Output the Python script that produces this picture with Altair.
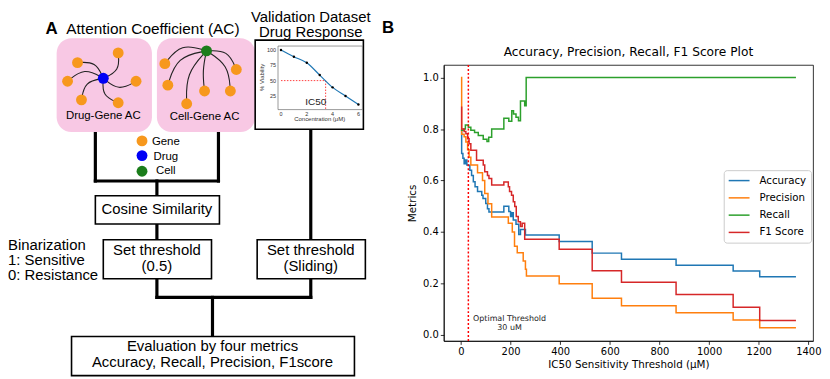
import altair as alt
import pandas as pd

# ---------------- Panel B data ----------------
acc_x = [0, 3, 8, 13, 18, 24, 29, 36, 43, 50, 57, 67, 84, 89, 100, 107, 113, 173, 193, 200,
         205, 211, 222, 233, 240, 260, 396, 529, 647, 867, 1097, 1204, 1350]
acc_y = [0.795, 0.705, 0.687, 0.665, 0.68, 0.66, 0.659, 0.64, 0.62, 0.595, 0.576, 0.557, 0.543,
         0.53, 0.511, 0.49, 0.478, 0.50, 0.48, 0.46, 0.475, 0.447, 0.43, 0.39, 0.41, 0.388,
         0.363, 0.318, 0.294, 0.271, 0.249, 0.226, 0.226]

prec_x = [0, 3, 13, 20, 27, 33, 40, 67, 87, 96, 109, 124, 191, 207, 216, 227, 251, 260, 264,
          396, 529, 647, 867, 1097, 1204, 1350]
prec_y = [1.0, 0.78, 0.77, 0.75, 0.72, 0.69, 0.66, 0.63, 0.60, 0.55, 0.51, 0.458, 0.434, 0.40,
          0.345, 0.319, 0.287, 0.255, 0.229, 0.199, 0.143, 0.114, 0.086, 0.058, 0.028, 0.028]

rec_x = [0, 12, 18, 30, 40, 55, 70, 90, 105, 112, 124, 173, 193, 205, 212, 222, 232, 240, 257,
         263, 1350]
rec_y = [0.795, 0.80, 0.816, 0.807, 0.795, 0.787, 0.775, 0.76, 0.752, 0.768, 0.80, 0.842, 0.83,
         0.871, 0.858, 0.846, 0.832, 0.909, 0.89, 1.0, 1.0]

f1_x = [0, 3, 13, 20, 27, 33, 40, 63, 90, 96, 107, 113, 124, 173, 191, 196, 204, 211, 217, 223,
        231, 240, 247, 257, 396, 529, 647, 867, 1097, 1204, 1350]
f1_y = [0.885, 0.80, 0.79, 0.782, 0.762, 0.743, 0.718, 0.679, 0.66, 0.634, 0.62, 0.608, 0.583,
        0.594, 0.576, 0.557, 0.543, 0.518, 0.499, 0.46, 0.44, 0.421, 0.434, 0.372, 0.333, 0.25,
        0.205, 0.157, 0.108, 0.056, 0.056]

series_names = ["Accuracy", "Precision", "Recall", "F1 Score"]
series_colors = ["#1f77b4", "#ff7f0e", "#2ca02c", "#d62728"]
x_ticks = [0, 200, 400, 600, 800, 1000, 1200, 1400]
y_ticks = [0.0, 0.2, 0.4, 0.6, 0.8, 1.0]
optimal_threshold = [30]
annot_text = ["Optimal Threshold", "30 uM"]
annot_x = [196, 196]
annot_y = [0.062, 0.028]

# ---------------- Panel A diagram data (reference pixel layout) ----------------
pink_x1 = [57, 158]
pink_x2 = [153, 257]
pink_y1 = [32, 32]
pink_y2 = [128, 128]

box_x1 = [257, 96, 104, 259, 72]
box_x2 = [366, 221, 213, 368, 357]
box_y1 = [34, 193, 238, 238, 337]
box_y2 = [125, 222, 278, 278, 377]

conn_x1 = [96, 220, 96, 158, 158, 313, 158, 313, 158, 214]
conn_y1 = [128, 128, 178, 178, 222, 125, 278, 278, 297, 297]
conn_x2 = [96, 220, 220, 158, 158, 313, 158, 313, 313, 214]
conn_y2 = [178, 178, 178, 193, 238, 238, 297, 297, 297, 337]

drug_center = (104, 73)
drug_genes_x = [78, 119, 68, 137, 82, 119]
drug_genes_y = [57, 47, 76, 76, 95, 98]
drug_bend = [0.35, 0.35, 0.35, 0.35, 0.35, 0.35]
cell_center = (208, 45)
cell_genes_x = [166, 238, 169, 206, 232, 188]
cell_genes_y = [58, 64, 80, 86, 86, 99]
cell_bend = [0.35, -0.35, 0.3, 0.08, -0.25, 0.2]

legend_node_types = ["Gene", "Drug", "Cell"]
legend_node_x = [143, 143, 143]
legend_node_y = [137, 152, 168]
node_colors = ["#f7981d", "#0000f5", "#1b7d1b"]

conc = [0, 1, 2, 3, 4, 5, 6]
viability = [100, 89, 79, 59, 39, 25, 11]
ic50_conc = 3.46

texts_c = [
    ("Attention Coefficient (AC)", 154, 23, 15.5),
    ("Validation Dataset", 313, 10, 15),
    ("Drug Response", 313, 26, 15),
    ("Drug-Gene AC", 104, 112, 11.5),
    ("Cell-Gene AC", 206, 113, 11.5),
    ("Gene", 167, 138, 11.5),
    ("Drug", 167, 153, 11.5),
    ("Cell", 167, 168, 11.5),
    ("Cosine Similarity", 158, 207, 15),
    ("Set threshold", 158, 249, 15),
    ("(0.5)", 158, 265, 15),
    ("Set threshold", 313, 249, 15),
    ("(Sliding)", 313, 265, 15),
    ("Evaluation by four metrics", 214, 347, 15),
    ("Accuracy, Recall, Precision, F1score", 214, 363, 15),
]
texts_l = [
    ("Binarization", 8, 243, 15),
    ("1: Sensitive", 8, 259, 15),
    ("0: Resistance", 8, 274, 15),
]
texts_b = [("A", 52, 23, 17), ("B", 391, 22, 17)]

# ---------------- build panel A ----------------
# left panel origin is aligned with the right plot's top (page y 64);
# the diagram extends above it so its top reaches the page's top margin
DX = alt.Scale(domain=[8, 400], range=[0, 392], nice=False, zero=False)
DY = alt.Scale(domain=[2.5, 377], range=[-56, 313], nice=False, zero=False)
FONT_A = "Liberation Sans"


def xy(xf="x", yf="y"):
    return dict(x=alt.X(f"{xf}:Q", scale=DX, axis=None), y=alt.Y(f"{yf}:Q", scale=DY, axis=None))


def span():
    return dict(x=alt.X("x1:Q", scale=DX, axis=None), x2="x2:Q",
                y=alt.Y("y1:Q", scale=DY, axis=None), y2="y2:Q")


pink_df = pd.DataFrame({"x1": pink_x1, "x2": pink_x2, "y1": pink_y1, "y2": pink_y2})
box_df = pd.DataFrame({"x1": box_x1, "x2": box_x2, "y1": box_y1, "y2": box_y2})
conn_df = pd.DataFrame({"x1": conn_x1, "x2": conn_x2, "y1": conn_y1, "y2": conn_y2})

pink = alt.Chart(pink_df).mark_rect(fill="#f8c8e4", cornerRadius=15).encode(**span())
conns = alt.Chart(conn_df).mark_rule(color="black", strokeWidth=3.2, strokeCap="square").encode(**span())
boxes = alt.Chart(box_df).mark_rect(fill="white", stroke="black", strokeWidth=1.6).encode(**span())

# curved edges (start, bent midpoint, end)
edge_rows = []
eid = 0
for (cx, cy), gx, gy, bends in [(drug_center, drug_genes_x, drug_genes_y, drug_bend),
                                 (cell_center, cell_genes_x, cell_genes_y, cell_bend)]:
    for px, py, b in zip(gx, gy, bends):
        dx, dy = px - cx, py - cy
        mx, my = (cx + px) / 2 - b * dy, (cy + py) / 2 + b * dx
        for k, (ex, ey) in enumerate([(cx, cy), (mx, my), (px, py)]):
            edge_rows.append({"x": ex, "y": ey, "e": eid, "k": k})
        eid += 1
edge_df = pd.DataFrame(edge_rows)
edges = alt.Chart(edge_df).mark_line(interpolate="basis", color="#222222", strokeWidth=1.1).encode(
    **xy(), detail="e:N", order="k:Q")

node_rows = []
for gx, gy in zip(drug_genes_x + cell_genes_x, drug_genes_y + cell_genes_y):
    node_rows.append({"x": gx, "y": gy, "t": "Gene"})
node_rows.append({"x": drug_center[0], "y": drug_center[1], "t": "Drug"})
node_rows.append({"x": cell_center[0], "y": cell_center[1], "t": "Cell"})
for t, lx, ly in zip(legend_node_types, legend_node_x, legend_node_y):
    node_rows.append({"x": lx, "y": ly, "t": t})
node_df = pd.DataFrame(node_rows)
nodes = alt.Chart(node_df).mark_point(filled=True, opacity=1, size=120).encode(
    **xy(), color=alt.Color("t:N", scale=alt.Scale(domain=legend_node_types, range=node_colors), legend=None))

# mini dose-response plot inside the validation box
MX0, MXS = 283, 13.0
MY0, MYS = 44, 0.627
mini_df = pd.DataFrame({"x": [MX0 + c * MXS for c in conc],
                        "y": [MY0 + (100 - v) * MYS for v in viability]})
mini_frame = alt.Chart(pd.DataFrame({"x1": [280], "x2": [365], "y1": [40], "y2": [105]})).mark_rect(
    fill="white", stroke="#555555", strokeWidth=0.6).encode(**span())
mini_line = alt.Chart(mini_df).mark_line(interpolate="monotone", color="#1f77b4", strokeWidth=1.2).encode(**xy())
mini_pts = alt.Chart(mini_df).mark_point(filled=True, color="black", size=6, opacity=1).encode(**xy())
ic_x = MX0 + ic50_conc * MXS
y50 = MY0 + 50 * MYS
ic_df = pd.DataFrame({"x1": [MX0, ic_x], "x2": [ic_x, ic_x], "y1": [y50, y50], "y2": [y50, 105]})
ic_lines = alt.Chart(ic_df).mark_rule(color="#ff4040", strokeDash=[1.5, 1.5], strokeWidth=1).encode(**span())
mini_tick_rows = []
for v in [100, 75, 50, 25]:
    mini_tick_rows.append({"x": 278, "y": MY0 + (100 - v) * MYS, "t": str(v)})
mini_yt = alt.Chart(pd.DataFrame(mini_tick_rows)).mark_text(
    align="right", fontSize=5.5, font=FONT_A, color="#333").encode(**xy(), text="t:N")
mini_xt = alt.Chart(pd.DataFrame({"x": [MX0 + c * MXS for c in [0, 2, 4, 6]], "y": [109] * 4,
                                  "t": ["0", "2", "4", "6"]})).mark_text(
    fontSize=5.5, font=FONT_A, color="#333").encode(**xy(), text="t:N")
mini_xlab = alt.Chart(pd.DataFrame({"x": [322], "y": [115], "t": ["Concentration (μM)"]})).mark_text(
    fontSize=6, font=FONT_A, color="#333").encode(**xy(), text="t:N")
mini_ylab = alt.Chart(pd.DataFrame({"x": [264], "y": [72], "t": ["% Viability"]})).mark_text(
    fontSize=6, font=FONT_A, color="#333", angle=270).encode(**xy(), text="t:N")
ic_lab = alt.Chart(pd.DataFrame({"x": [318], "y": [97], "t": ["IC50"]})).mark_text(
    fontSize=10, font=FONT_A, color="#222").encode(**xy(), text="t:N")


def tdf(rows):
    return pd.DataFrame(rows, columns=["t", "x", "y", "fs"])


txt_c = alt.Chart(tdf(texts_c)).mark_text(font=FONT_A, color="black").encode(
    **xy(), text="t:N", size=alt.Size("fs:Q", scale=None, legend=None))
txt_l = alt.Chart(tdf(texts_l)).mark_text(font=FONT_A, color="black", align="left").encode(
    **xy(), text="t:N", size=alt.Size("fs:Q", scale=None, legend=None))
txt_b = alt.Chart(tdf(texts_b)).mark_text(font=FONT_A, color="black", fontWeight="bold").encode(
    **xy(), text="t:N", size=alt.Size("fs:Q", scale=None, legend=None))

panel_a = alt.layer(
    conns, pink, boxes, edges, nodes, mini_frame, ic_lines, mini_line, mini_pts,
    mini_yt, mini_xt, mini_xlab, mini_ylab, ic_lab, txt_c, txt_l, txt_b
).properties(width=392, height=278,
             view=alt.ViewBackground(stroke="transparent", strokeWidth=0))

# ---------------- build panel B ----------------
rows = []
for name, xs, ys in zip(series_names, [acc_x, prec_x, rec_x, f1_x], [acc_y, prec_y, rec_y, f1_y]):
    for a, b in zip(xs, ys):
        rows.append({"threshold": a, "value": b, "metric": name})
metrics_df = pd.DataFrame(rows)

FONT_B = "DejaVu Sans"
XB = alt.Scale(domain=[-69, 1419], nice=False, zero=False)
YB = alt.Scale(domain=[-0.023, 1.049], nice=False, zero=False)

axis_common = dict(grid=False, labelFont=FONT_B, labelFontSize=10, titleFont=FONT_B, titleFontSize=10.4,
                   titleFontWeight="normal", titleColor="black", labelColor="black",
                   tickColor="black", domainColor="black", tickSize=3.5, labelPadding=2,
                   labelFlush=False, tickWidth=0.8, domainWidth=0.8)

lines = alt.Chart(metrics_df).mark_line(interpolate="step-after", strokeWidth=1.5).encode(
    x=alt.X("threshold:Q", scale=XB,
            axis=alt.Axis(values=x_ticks, format="d", title="IC50 Sensitivity Threshold (μM)",
                          titlePadding=3, **axis_common)),
    y=alt.Y("value:Q", scale=YB,
            axis=alt.Axis(values=y_ticks, format=".1f", title="Metrics", titlePadding=5, **axis_common)),
    color=alt.Color("metric:N", scale=alt.Scale(domain=series_names, range=series_colors),
                    legend=alt.Legend(title=None, orient="none", legendX=282, legendY=106,
                                      symbolType="M-1.1,0H3.1", symbolSize=100, symbolStrokeWidth=1.5,
                                      labelFont=FONT_B, labelFontSize=10.3, labelColor="black",
                                      labelOffset=19.5, rowPadding=5.4, padding=4.5,
                                      fillColor="white", strokeColor="#cccccc", cornerRadius=3)),
)

opt_rule = alt.Chart(pd.DataFrame({"threshold": optimal_threshold})).mark_rule(
    color="red", strokeDash=[2, 2], strokeWidth=1.5).encode(x=alt.X("threshold:Q", scale=XB))

annot = alt.Chart(pd.DataFrame({"threshold": annot_x, "value": annot_y, "t": annot_text})).mark_text(
    font=FONT_B, fontSize=8, color="#222222").encode(
    x=alt.X("threshold:Q", scale=XB), y=alt.Y("value:Q", scale=YB), text="t:N")

panel_b = alt.layer(lines, opt_rule, annot).properties(
    width=372, height=278,
    title=alt.TitleParams("Accuracy, Precision, Recall, F1 Score Plot", font=FONT_B, fontSize=12.3,
                          fontWeight="normal", color="black", offset=6, anchor="middle"),
    view=alt.ViewBackground(stroke="black", strokeWidth=0.8, strokeOpacity=1),
)

chart = alt.hconcat(panel_a, panel_b, spacing=10).resolve_scale(
    color="independent", size="independent").properties(padding=0).configure(background="white")

chart.save("out.html", embed_options={"renderer": "svg", "actions": False})
